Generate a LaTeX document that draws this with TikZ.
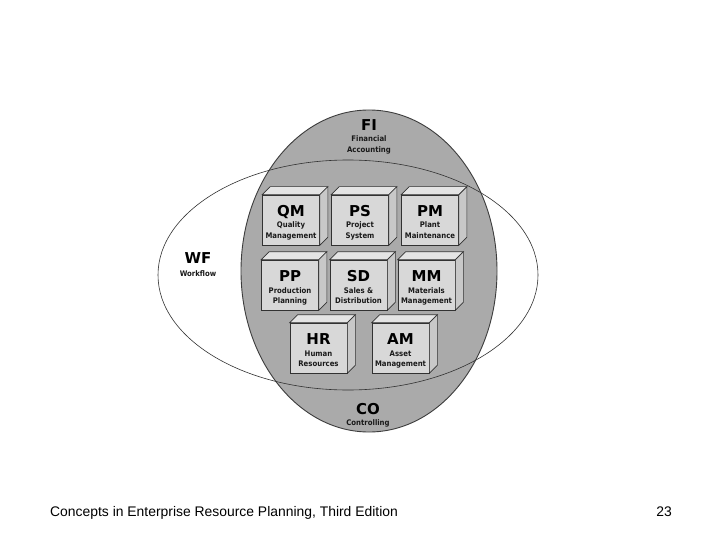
\documentclass[tikz,border=0pt]{standalone}
\usepackage{fontspec}
\setmainfont{DejaVu Sans}
\newfontfamily\condfont{DejaVu Sans Condensed}
\newfontfamily\footfont{Liberation Sans}
\begin{document}
\begin{tikzpicture}[x=1pt,y=-1pt,
  grayfill/.style={fill={rgb,255:red,170;green,170;blue,170}, draw={rgb,255:red,60;green,60;blue,60}, line width=0.9pt},
  wfline/.style={draw={rgb,255:red,50;green,50;blue,50}, line width=0.6pt},
  modbox/.style={draw={rgb,255:red,50;green,50;blue,50}, line width=0.7pt, fill={rgb,255:red,216;green,216;blue,216},
    minimum width=57pt, minimum height=50pt, inner sep=0pt},
  topface/.style={draw={rgb,255:red,50;green,50;blue,50}, line width=0.7pt, fill={rgb,255:red,228;green,228;blue,228}},
  sideface/.style={draw={rgb,255:red,50;green,50;blue,50}, line width=0.7pt, fill={rgb,255:red,200;green,200;blue,200}},
  abbrtxt/.style={anchor=base, inner sep=0pt, font=\fontsize{15}{16}\selectfont\bfseries},
  subtxt/.style={anchor=base, inner sep=0pt, font=\condfont\fontsize{7.7}{8}\selectfont\bfseries, text={rgb,255:red,25;green,25;blue,25}},
  foot/.style={anchor=base, inner sep=0pt, font=\footfont\fontsize{13.9}{16}\selectfont}
]
\useasboundingbox[fill=white] (0,0) rectangle (720,540);

% large gray ellipse
\path[grayfill] (369,271) ellipse [x radius=128, y radius=161];
% workflow ellipse
\path[wfline] (348,275) ellipse [x radius=190, y radius=115];

% labels on ellipses
\node[abbrtxt] (fi) at (369,131) {FI};
\node[subtxt] (fi-1) at (369,142) {Financial};
\node[subtxt] (fi-2) at (369,153) {Accounting};
\node[abbrtxt] (wf) at (198,263) {WF};
\node[subtxt] (wf-1) at (198,276.5) {Workflow};
\node[abbrtxt] (co) at (368,414) {CO};
\node[subtxt] (co-1) at (368,425.5) {Controlling};

% module boxes
\newcommand{\erpbox}[6]{%
  \node[modbox] (#1) at (#2,#3) {};
  \path[topface] (#1.north west) -- ++(8,-8) -- ([shift={(8,-8)}]#1.north east) -- (#1.north east) -- cycle;
  \path[sideface] (#1.north east) -- ++(8,-8) -- ([shift={(8,-8)}]#1.south east) -- (#1.south east) -- cycle;
  \node[abbrtxt] (#1-a) at (#2,#3-3.5) {#4};
  \node[subtxt] (#1-b) at (#2,#3+8) {#5};
  \node[subtxt] (#1-c) at (#2,#3+18.5) {#6};
}
\erpbox{qm}{291}{220}{QM}{Quality}{Management}
\erpbox{ps}{360}{220}{PS}{Project}{System}
\erpbox{pm}{430}{220}{PM}{Plant}{Maintenance}
\erpbox{pp}{290}{285}{PP}{Production}{Planning}
\erpbox{sd}{358.5}{285}{SD}{Sales \&}{Distribution}
\erpbox{mm}{426.5}{285}{MM}{Materials}{Management}
\erpbox{hr}{318.5}{348}{HR}{Human}{Resources}
\erpbox{am}{400.5}{348}{AM}{Asset}{Management}

% footer
\node[foot, anchor=base west] (title) at (50,516) {Concepts in Enterprise Resource Planning, Third Edition};
\node[foot, anchor=base east] (page) at (672,516) {23};
\end{tikzpicture}
\end{document}
